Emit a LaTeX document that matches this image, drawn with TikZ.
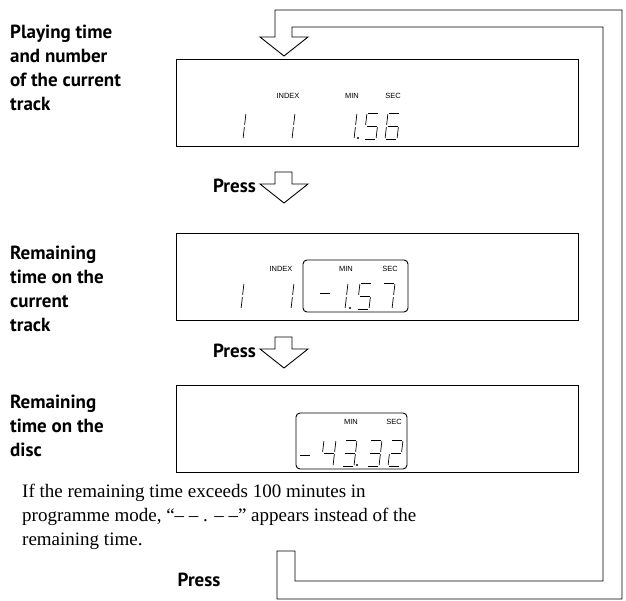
\documentclass[tikz,border=0pt]{standalone}
\usepackage{fontspec}
\setmainfont{Liberation Serif}
\setsansfont{PT Sans}
\usetikzlibrary{positioning}

% seven-segment digit: x, y (baseline), list of segments
\newcommand{\segA}{(0,1) -- (1,1)}
\newcommand{\segB}{(1,1) -- (1,.5)}
\newcommand{\segC}{(1,.5) -- (1,0)}
\newcommand{\segD}{(0,0) -- (1,0)}
\newcommand{\segE}{(0,0) -- (0,.5)}
\newcommand{\segF}{(0,.5) -- (0,1)}
\newcommand{\segG}{(0,.5) -- (1,.5)}
\newcommand{\lcddigit}[3]{%
  \begin{scope}[shift={(#1,#2)}, x={(12pt,0pt)}, y={(3pt,26pt)}]
    \foreach \s in {#3} {\draw[lcdseg] \csname seg\s\endcsname;}
  \end{scope}}
\newcommand{\lcddot}[2]{\fill (#1,#2) circle (1.2pt);}

\begin{document}
\begin{tikzpicture}[x=1pt, y=-1pt, >=latex]

    % Define styles
    \tikzset{
      panel/.style={draw=black, line width=0.9pt},
      window/.style={draw=black, line width=0.9pt, rounded corners=4pt},
      lcdseg/.style={line width=0.7pt, shorten <=1pt, shorten >=1pt},
      tag/.style={font=\fontspec{Liberation Sans}\fontsize{7.5}{7.5}\selectfont, inner sep=0pt},
      caption/.style={font=\sffamily\bfseries\fontsize{19}{24}\selectfont, align=left, anchor=north west, inner sep=0pt},
      press/.style={font=\sffamily\bfseries\fontsize{19}{19}\selectfont, inner sep=0pt},
      hollow/.style={draw=black, line width=0.9pt, fill=white}
    }

    \useasboundingbox (0,0) rectangle (626,601);

    % Captions
    \node (cap1) [caption] at (10,25) {Playing time\\and number\\of the current\\track};
    \node (cap2) [caption] at (10,246) {Remaining\\time on the\\current\\track};
    \node (cap3) [caption] at (10,395) {Remaining\\time on the\\disc};

    % Panels
    \draw[panel] (176,59) rectangle (578,146);
    \draw[panel] (176,233) rectangle (578,320);
    \draw[panel] (176,385) rectangle (578,472);
    \draw[window] (303,260) rectangle (408,312);
    \draw[window] (296,413) rectangle (407,469);

    % Panel 1
    \node (idx1) [tag] at (288,96) {INDEX};
    \node (min1) [tag] at (352,96) {MIN};
    \node (sec1) [tag] at (393,96) {SEC};
    \lcddigit{231}{139}{B,C}
    \lcddigit{280}{139}{B,C}
    \lcddigit{342}{139}{B,C}
    \lcddot{358}{138}
    \lcddigit{364}{139}{A,F,G,C,D}
    \lcddigit{385}{139}{A,F,G,E,C,D}

    % Panel 2
    \node (idx2) [tag] at (281,269) {INDEX};
    \node (min2) [tag] at (346,269) {MIN};
    \node (sec2) [tag] at (390,269) {SEC};
    \lcddigit{229}{309}{B,C}
    \lcddigit{279}{309}{B,C}
    \draw[line width=0.7pt] (320,293) -- (330,293);
    \lcddigit{333}{309}{B,C}
    \lcddot{350}{308}
    \lcddigit{357}{309}{A,F,G,C,D}
    \lcddigit{380}{309}{A,B,C}

    % Panel 3
    \node (min3) [tag] at (351,422) {MIN};
    \node (sec3) [tag] at (394,422) {SEC};
    \draw[line width=0.7pt] (300,455) -- (310,455);
    \lcddigit{321}{466}{F,G,B,C}
    \lcddigit{342}{466}{A,B,G,C,D}
    \lcddot{357}{465}
    \lcddigit{367}{466}{A,B,G,C,D}
    \lcddigit{388}{466}{A,B,G,E,D}

    % Press arrows
    \node (press1) [press, anchor=east] at (256,186) {Press};
    \draw[hollow] (275,172) -- (292,172) -- (292,184) -- (308,184) -- (284,203) -- (260,184) -- (275,184) -- cycle;
    \node (press2) [press, anchor=east] at (256,351) {Press};
    \draw[hollow] (275,337) -- (292,337) -- (292,349) -- (308,349) -- (284,368) -- (260,349) -- (275,349) -- cycle;

    % Note
    \node (note) [anchor=north west, inner sep=0pt, align=left, font=\fontsize{19}{24}\selectfont] at (22,484)
      {If the remaining time exceeds 100 minutes in\\programme mode, ``-- -- . -- --'' appears instead of the\\remaining time.};
    \node (press3) [press] at (199,580) {Press};

    % Return loop
    \draw[hollow] (277,551) -- (295,551) -- (295,581) -- (603,581) -- (603,27) -- (292,27) -- (292,37)
      -- (308,37) -- (284,56) -- (260,37) -- (275,37) -- (275,10) -- (622,10) -- (622,599) -- (277,599) -- cycle;

\end{tikzpicture}
\end{document}
